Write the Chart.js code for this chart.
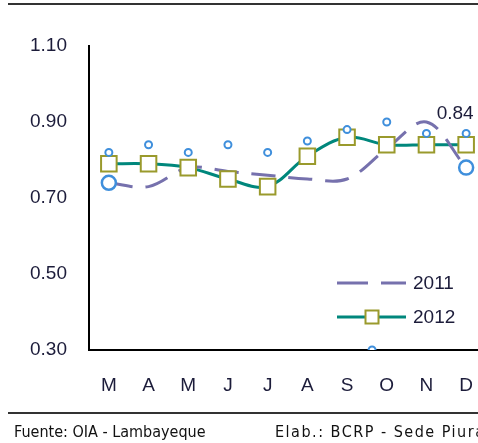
<!DOCTYPE html>
<html>
<head>
<meta charset="utf-8">
<script src="https://cdn.jsdelivr.net/npm/chart.js@4/dist/chart.umd.min.js"></script>
<style>
  html, body { margin:0; padding:0; width:478px; height:443px; overflow:hidden; background:#fff; }
  #wrap { position:absolute; left:0; top:0; width:500px; height:443px; }
  .rule { position:absolute; left:8px; width:480px; height:2px; background:#333; }
  .foot { position:absolute; top:422px; font-family:'DejaVu Sans Condensed', 'DejaVu Sans', sans-serif; font-stretch:condensed; font-size:16px; color:#111; white-space:nowrap; }
</style>
</head>
<body>
<div class="rule" style="top:3px"></div>
<div id="wrap"><canvas id="c" width="500" height="443"></canvas></div>
<div class="rule" style="top:412px"></div>
<div class="foot" style="left:14px">Fuente: OIA - Lambayeque</div>
<div class="foot" style="left:275px; letter-spacing:1.5px">Elab.: BCRP - Sede Piura</div>
<script>
const months = ['M','A','M','J','J','A','S','O','N','D'];
const series2011 = [0.74, 0.73, 0.78, 0.77, 0.76, 0.75, 0.75, 0.83, 0.90, 0.78];
const series2012 = [0.79, 0.79, 0.78, 0.75, 0.73, 0.81, 0.86, 0.84, 0.84, 0.84];
const smallMarks = [0.82, 0.84, 0.82, 0.84, 0.82, 0.85, 0.88, 0.90, 0.87, 0.87];
const strayMarkX = 6.63, strayMarkY = 0.30;
const bigMarks = [0.74, null, null, null, null, null, null, null, null, 0.78];
const yTicks = [0.30, 0.50, 0.70, 0.90, 1.10];
const legendNames = ['2011', '2012'];
const lastLabel = '0.84';

const FONT = "'Liberation Sans', Arial, sans-serif";
const TEAL = '#00877c', PURPLE = '#7671ad', OLIVE = '#9a9a2c', BLUE = '#3f8fdc';

const smallPts = smallMarks.map((v, i) => ({x: i, y: v}));
smallPts.push({x: strayMarkX, y: strayMarkY});

const extras = {
  id: 'extras',
  afterDatasetsDraw(chart) {
    const ctx = chart.ctx;
    ctx.save();
    const meta = chart.getDatasetMeta(2);
    const p = meta.data[meta.data.length - 1];
    ctx.font = '19px ' + FONT;
    ctx.fillStyle = '#1c1c3a';
    ctx.textAlign = 'center';
    ctx.textBaseline = 'middle';
    ctx.fillText(lastLabel, p.x - 11, p.y - 31);
    ctx.textAlign = 'left';
    ctx.lineWidth = 3;
    ctx.strokeStyle = PURPLE;
    ctx.setLineDash([31, 13]);
    ctx.beginPath(); ctx.moveTo(337, 283); ctx.lineTo(406, 283); ctx.stroke();
    ctx.setLineDash([]);
    ctx.fillText(legendNames[0], 413, 284);
    ctx.strokeStyle = TEAL;
    ctx.beginPath(); ctx.moveTo(337, 317); ctx.lineTo(406, 317); ctx.stroke();
    ctx.fillStyle = '#fff';
    ctx.strokeStyle = OLIVE; ctx.lineWidth = 2;
    ctx.fillRect(365.5, 310.5, 13, 13);
    ctx.strokeRect(365.5, 310.5, 13, 13);
    ctx.fillStyle = '#1c1c3a';
    ctx.fillText(legendNames[1], 413, 318);
    ctx.restore();
  }
};

new Chart(document.getElementById('c'), {
  type: 'line',
  data: {
    labels: months,
    datasets: [
      { label: '2012 line', data: series2012, borderColor: TEAL, borderWidth: 3, pointRadius: 0, tension: 0.35, order: 4 },
      { label: '2011', data: series2011, borderColor: PURPLE, borderWidth: 3, borderDash: [24, 13], pointRadius: 0, tension: 0.35, order: 3 },
      { label: '2012', data: series2012, showLine: false, pointStyle: 'rect', pointRadius: 11, borderWidth: 2, borderColor: OLIVE, backgroundColor: '#fff', order: 2 },
      { label: 'big', data: bigMarks, showLine: false, pointRadius: 7, borderWidth: 2.5, borderColor: BLUE, backgroundColor: '#fff', order: 1 },
      { label: 'small', data: smallPts, xAxisID: 'xs', showLine: false, pointRadius: 3.5, borderWidth: 2, borderColor: BLUE, backgroundColor: '#fff', order: 0 }
    ]
  },
  options: {
    responsive: false,
    animation: false,
    layout: { padding: { top: 46, right: 14, left: 0, bottom: 0 } },
    plugins: { legend: { display: false }, tooltip: { enabled: false } },
    scales: {
      x: {
        offset: true,
        grid: { display: false, drawTicks: false },
        border: { display: true, color: '#000', width: 2 },
        ticks: { font: { family: FONT, size: 19 }, color: '#1c1c3a', padding: 24, maxRotation: 0, autoSkip: false },
        afterFit(s) { s.height = 93; }
      },
      xs: { type: 'linear', display: false, min: -0.5, max: 9.5 },
      y: {
        min: 0.30, max: 1.10,
        afterBuildTicks(s) { s.ticks = yTicks.map(v => ({value: v})); },
        grid: { display: false, drawTicks: false },
        border: { display: true, color: '#000', width: 2 },
        ticks: { font: { family: FONT, size: 19 }, color: '#1c1c3a', padding: 22, callback: v => v.toFixed(2) },
        afterFit(s) { s.width = 89; }
      }
    }
  },
  plugins: [extras]
});
</script>
</body>
</html>
